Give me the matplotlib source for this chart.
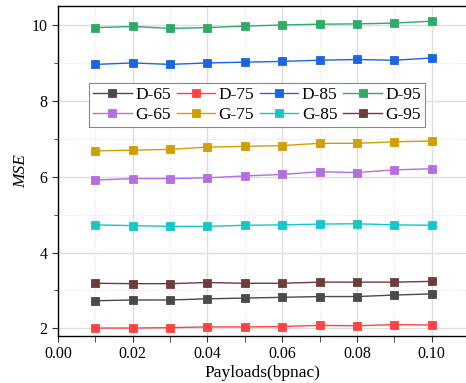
import matplotlib.pyplot as plt
from matplotlib.ticker import MultipleLocator

plt.rcParams['font.family'] = 'Liberation Serif'

payloads = [0.01, 0.02, 0.03, 0.04, 0.05, 0.06, 0.07, 0.08, 0.09, 0.10]

d65 = [2.73, 2.75, 2.75, 2.78, 2.80, 2.82, 2.84, 2.84, 2.88, 2.91]
d75 = [2.01, 2.01, 2.02, 2.04, 2.04, 2.05, 2.08, 2.07, 2.10, 2.09]
d85 = [8.96, 9.00, 8.96, 9.00, 9.02, 9.04, 9.07, 9.09, 9.07, 9.13]
d95 = [9.93, 9.96, 9.91, 9.93, 9.97, 10.00, 10.02, 10.03, 10.05, 10.10]
g65 = [5.91, 5.95, 5.95, 5.97, 6.02, 6.06, 6.13, 6.11, 6.18, 6.21]
g75 = [6.68, 6.70, 6.72, 6.78, 6.80, 6.82, 6.88, 6.88, 6.92, 6.94]
g85 = [4.73, 4.71, 4.69, 4.69, 4.72, 4.73, 4.75, 4.76, 4.73, 4.72]
g95 = [3.19, 3.18, 3.18, 3.21, 3.19, 3.19, 3.22, 3.22, 3.22, 3.24]

series = [
    ('D-65', d65, '#4a4a4a'),
    ('D-75', d75, '#ff4242'),
    ('D-85', d85, '#1a66e0'),
    ('D-95', d95, '#2fab68'),
    ('G-65', g65, '#b46ee0'),
    ('G-75', g75, '#d29e00'),
    ('G-85', g85, '#12c8c8'),
    ('G-95', g95, '#6e3c3c'),
]

fig = plt.figure(figsize=(4.66, 3.83), dpi=100)
ax = fig.add_axes([0.1245, 0.1227, 0.8755, 0.8616])

lines = {}
for name, vals, c in series:
    ln, = ax.plot(payloads, vals, color=c, lw=1.0, marker='s', ms=5.5,
                  mfc=c, mec=c, mew=0.6, label=name)
    lines[name] = ln

ax.set_xlim(0, 0.1092)
ax.set_ylim(1.8, 10.5)
ax.xaxis.set_major_locator(MultipleLocator(0.02))
ax.xaxis.set_minor_locator(MultipleLocator(0.01))
ax.yaxis.set_major_locator(MultipleLocator(2))
ax.yaxis.set_minor_locator(MultipleLocator(1))
ax.xaxis.set_major_formatter(plt.FormatStrFormatter('%.2f'))

ax.grid(True, which='major', color='#dedede', lw=1.0)
ax.grid(True, which='minor', color='#e2e2e2', lw=0.8, ls=':')
ax.set_axisbelow(True)
ax.spines['right'].set_visible(False)
for s in ('left', 'bottom', 'top'):
    ax.spines[s].set_linewidth(1.0)
ax.tick_params(which='both', direction='out', labelsize=11.5, color='#333333')
ax.tick_params(which='major', length=4)
ax.tick_params(which='minor', length=3)
ax.tick_params(axis='x', which='minor', length=4)

ax.set_xlabel('Payloads(bpnac)', fontsize=12.5, labelpad=2)
ax.set_ylabel('MSE', fontsize=12.5, fontstyle='italic', labelpad=2)

# ncol fills column-wise, so interleave D and G rows
order = ['D-65', 'G-65', 'D-75', 'G-75', 'D-85', 'G-85', 'D-95', 'G-95']
leg = ax.legend([lines[k] for k in order], order, ncol=4, fontsize=12.5,
                loc='upper left', bbox_to_anchor=(0.076, 0.768),
                frameon=True, fancybox=False, edgecolor='#888888',
                framealpha=1.0, handlelength=2.2, handletextpad=0.2,
                columnspacing=0.35, borderpad=0.25, labelspacing=0.2,
                borderaxespad=0)
leg.get_frame().set_linewidth(0.8)

fig.savefig('out.png', dpi=100)
